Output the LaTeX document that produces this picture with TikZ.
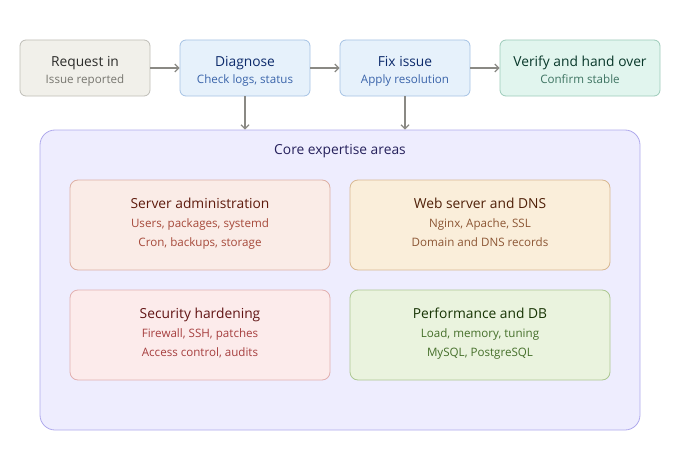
\documentclass[tikz,border=0pt]{standalone}
\usepackage{fontspec}
\setmainfont{Open Sans}
\usetikzlibrary{positioning,arrows.meta}

\definecolor{reqfill}{HTML}{F1F0EA}
\definecolor{reqline}{HTML}{BEBDB6}
\definecolor{reqtitle}{HTML}{2C2C2A}
\definecolor{reqsub}{HTML}{77766F}
\definecolor{bluefill}{HTML}{E6F1FB}
\definecolor{blueline}{HTML}{A5C2E4}
\definecolor{bluetitle}{HTML}{0C2A6B}
\definecolor{bluesub}{HTML}{3A64AA}
\definecolor{tealfill}{HTML}{E1F5EE}
\definecolor{tealline}{HTML}{9CCBB9}
\definecolor{tealtitle}{HTML}{08382A}
\definecolor{tealsub}{HTML}{3E7462}
\definecolor{corefill}{HTML}{EEEDFE}
\definecolor{coreline}{HTML}{AFA9EC}
\definecolor{coretitle}{HTML}{26215C}
\definecolor{coralfill}{HTML}{FAECE7}
\definecolor{coralline}{HTML}{DDB0A4}
\definecolor{coraltitle}{HTML}{5E1A0C}
\definecolor{coralsub}{HTML}{A6493A}
\definecolor{amberfill}{HTML}{FAEEDA}
\definecolor{amberline}{HTML}{D8B892}
\definecolor{ambertitle}{HTML}{4F2008}
\definecolor{ambersub}{HTML}{8C5634}
\definecolor{redfill}{HTML}{FCEBEB}
\definecolor{redline}{HTML}{E2B0B0}
\definecolor{redtitle}{HTML}{611414}
\definecolor{redsub}{HTML}{A63E3E}
\definecolor{greenfill}{HTML}{EAF3DE}
\definecolor{greenline}{HTML}{ADC892}
\definecolor{greentitle}{HTML}{173404}
\definecolor{greensub}{HTML}{456F2A}
\definecolor{arrowgray}{HTML}{8A8984}

\tikzset{
  stage/.style={rectangle, rounded corners=6pt, line width=0.8pt,
    minimum width=130pt, minimum height=56pt},
  area/.style={rectangle, rounded corners=8pt, line width=0.8pt,
    minimum width=260pt, minimum height=90pt},
  ttl/.style={anchor=base, inner sep=0pt, font=\fontsize{13.8}{16}\selectfont},
  sub/.style={anchor=base, inner sep=0pt, font=\fontsize{11.6}{14}\selectfont},
  flow/.style={draw=arrowgray, line width=1.2pt,
    -{Straight Barb[length=4pt,width=8pt]}}
}

\begin{document}
\begin{tikzpicture}[x=1pt,y=-1pt]
\useasboundingbox (0,0) rectangle (680,460);

% pipeline across the top
\node[stage, fill=reqfill, draw=reqline] (req) at (85,68) {};
\node[stage, fill=bluefill, draw=blueline] (diag) at (245,68) {};
\node[stage, fill=bluefill, draw=blueline] (fix) at (405,68) {};
\node[stage, fill=tealfill, draw=tealline, minimum width=160pt] (verify) at (580,68) {};

\node[ttl, text=reqtitle] (reqT) at (85,66.5) {Request in};
\node[sub, text=reqsub] (reqS) at (85,83.5) {Issue reported};
\node[ttl, text=bluetitle] (diagT) at (245,66.5) {Diagnose};
\node[sub, text=bluesub] (diagS) at (245,83.5) {Check logs, status};
\node[ttl, text=bluetitle] (fixT) at (405,66.5) {Fix issue};
\node[sub, text=bluesub] (fixS) at (405,83.5) {Apply resolution};
\node[ttl, text=tealtitle] (verifyT) at (580,66.5) {Verify and hand over};
\node[sub, text=tealsub] (verifyS) at (580,83.5) {Confirm stable};

% expertise container
\node[rectangle, rounded corners=15pt, line width=0.8pt, fill=corefill, draw=coreline,
  minimum width=600pt, minimum height=300pt] (core) at (340,280) {};
\node[ttl, text=coretitle] (coreT) at (340,154.5) {Core expertise areas};

\node[area, fill=coralfill, draw=coralline] (srv) at (200,225) {};
\node[area, fill=amberfill, draw=amberline] (web) at (480,225) {};
\node[area, fill=redfill, draw=redline] (sec) at (200,335) {};
\node[area, fill=greenfill, draw=greenline] (perf) at (480,335) {};

\node[ttl, text=coraltitle] (srvT) at (200,208.5) {Server administration};
\node[sub, text=coralsub] (srvA) at (200,227) {Users, packages, systemd};
\node[sub, text=coralsub] (srvB) at (200,246) {Cron, backups, storage};

\node[ttl, text=ambertitle] (webT) at (480,208.5) {Web server and DNS};
\node[sub, text=ambersub] (webA) at (480,227) {Nginx, Apache, SSL};
\node[sub, text=ambersub] (webB) at (480,246) {Domain and DNS records};

\node[ttl, text=redtitle] (secT) at (200,318.5) {Security hardening};
\node[sub, text=redsub] (secA) at (200,337) {Firewall, SSH, patches};
\node[sub, text=redsub] (secB) at (200,356) {Access control, audits};

\node[ttl, text=greentitle] (perfT) at (480,318.5) {Performance and DB};
\node[sub, text=greensub] (perfA) at (480,337) {Load, memory, tuning};
\node[sub, text=greensub] (perfB) at (480,356) {MySQL, PostgreSQL};

% connectors
\draw[flow] (req) -- (diag);
\draw[flow] (diag) -- (fix);
\draw[flow] (fix) -- (verify);
\draw[flow] (diag.south) -- (diag.south |- core.north);
\draw[flow] (fix.south) -- (fix.south |- core.north);
\end{tikzpicture}
\end{document}
